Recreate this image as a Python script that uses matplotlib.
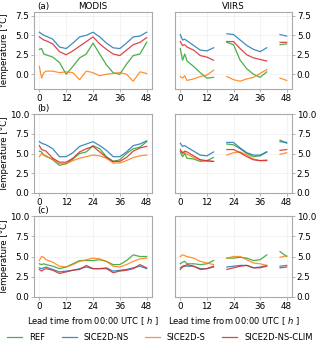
import numpy as np
import matplotlib
matplotlib.use('Agg')
import matplotlib.pyplot as plt

nan = np.nan
HOURS = [0, 1, 2, 3, 6, 9, 12, 15, 18, 21, 24, 27, 30, 33, 36, 39, 42, 45, 48]
LABELS = ['REF', 'SICE2D-NS', 'SICE2D-S', 'SICE2D-NS-CLIM']
COLORS = ['#2ca02c', '#1f77b4', '#ff7f0e', '#d62728']

# (a) MODIS
a_modis_ref = [3.2, 3.3, 2.6, 2.5, 2.2, 1.5, 0.0, 1.0, 2.1, 2.6, 4.0, 2.6, 1.2, 0.2, 0.0, 1.3, 2.4, 2.6, 4.1]
a_modis_ns = [5.4, 5.2, 5.0, 4.9, 4.5, 3.5, 3.3, 4.0, 4.8, 5.0, 5.4, 4.8, 4.0, 3.4, 3.3, 4.0, 4.8, 4.9, 5.4]
a_modis_s = [1.0, -0.5, 0.2, 0.4, 0.4, 0.2, 0.3, 0.2, -0.7, 0.4, 0.2, -0.2, 0.0, 0.1, 0.2, 0.0, -0.9, 0.3, 0.1]
a_modis_clim = [4.8, 4.6, 4.4, 4.3, 3.9, 2.9, 2.5, 3.0, 3.6, 4.2, 4.8, 3.9, 3.2, 2.6, 2.4, 3.1, 3.8, 4.1, 4.7]
# (a) VIIRS
a_viirs_ref = [3.3, 1.8, 2.6, 1.7, 1.0, 0.2, -0.5, -0.4, nan, 4.1, 3.8, 1.8, 0.7, 0.0, -0.4, 0.3, nan, 3.8, 3.9]
a_viirs_ns = [5.1, 4.4, 4.5, 4.3, 3.7, 3.1, 3.0, 3.4, nan, 5.2, 5.1, 4.4, 3.7, 3.2, 2.9, 3.4, nan, 5.1, 4.9]
a_viirs_s = [-0.3, -0.5, -0.2, -0.8, -0.6, -0.3, -0.1, 0.5, nan, -0.3, -0.7, -0.9, -0.6, -0.4, 0.1, 0.6, nan, -0.5, -0.8]
a_viirs_clim = [4.2, 3.7, 3.8, 3.5, 3.1, 2.4, 2.2, 1.8, nan, 4.2, 4.2, 3.3, 2.5, 2.1, 1.9, 1.7, nan, 4.1, 4.1]
# (b) MODIS
b_modis_ref = [5.3, 5.2, 4.8, 4.7, 4.2, 3.5, 3.7, 4.3, 5.0, 5.2, 6.0, 5.6, 4.6, 4.0, 4.2, 5.0, 5.6, 5.8, 6.5]
b_modis_ns = [6.5, 6.3, 6.2, 6.1, 5.6, 4.6, 4.6, 5.1, 5.9, 6.2, 6.5, 6.0, 5.4, 4.6, 4.6, 5.2, 6.0, 6.2, 6.6]
b_modis_s = [4.6, 5.0, 4.8, 4.6, 4.3, 3.7, 3.7, 4.1, 4.4, 4.6, 4.8, 4.7, 4.4, 3.8, 3.8, 4.1, 4.5, 4.7, 4.8]
b_modis_clim = [6.0, 5.5, 5.4, 5.3, 4.4, 3.9, 3.9, 4.4, 5.2, 5.6, 5.9, 5.2, 4.5, 4.0, 4.0, 4.5, 5.3, 5.7, 5.9]
# (b) VIIRS
b_viirs_ref = [5.2, 4.6, 5.0, 4.4, 4.3, 4.0, 4.1, 4.5, nan, 6.2, 6.1, 5.6, 5.0, 4.6, 4.7, 5.2, nan, 6.7, 6.3]
b_viirs_ns = [6.3, 5.9, 6.0, 5.8, 5.3, 4.8, 4.7, 5.2, nan, 6.4, 6.4, 5.7, 5.1, 4.8, 4.8, 5.2, nan, 6.5, 6.4]
b_viirs_s = [5.3, 5.2, 5.1, 4.9, 4.5, 4.2, 4.0, 4.0, nan, 4.8, 5.1, 5.2, 4.8, 4.3, 4.1, 4.2, nan, 4.9, 5.1]
b_viirs_clim = [5.5, 5.0, 5.3, 5.2, 4.7, 4.2, 4.1, 4.0, nan, 5.5, 5.5, 5.1, 4.6, 4.2, 4.1, 4.1, nan, 5.4, 5.5]
# (c) MODIS
c_modis_ref = [4.1, 4.0, 4.1, 4.0, 3.8, 3.5, 3.7, 4.1, 4.5, 4.5, 4.5, 4.6, 4.4, 4.0, 4.0, 4.5, 5.2, 5.0, 5.0]
c_modis_ns = [3.6, 3.5, 3.6, 3.7, 3.4, 3.1, 3.2, 3.3, 3.5, 3.7, 3.5, 3.5, 3.6, 3.2, 3.3, 3.4, 3.6, 3.8, 3.5]
c_modis_s = [4.5, 5.0, 4.9, 4.6, 4.3, 3.8, 3.7, 4.0, 4.4, 4.6, 4.8, 4.7, 4.4, 3.8, 3.7, 4.0, 4.4, 4.7, 4.8]
c_modis_clim = [3.4, 3.2, 3.4, 3.5, 3.3, 2.9, 3.1, 3.3, 3.4, 3.9, 3.5, 3.5, 3.5, 3.0, 3.2, 3.3, 3.5, 4.0, 3.6]
# (c) VIIRS
c_viirs_ref = [4.1, 4.3, 4.4, 4.1, 4.1, 4.0, 4.1, 4.5, nan, 4.8, 4.8, 4.9, 4.8, 4.5, 4.6, 5.2, nan, 5.6, 5.0]
c_viirs_ns = [3.6, 3.8, 3.9, 3.8, 3.8, 3.5, 3.5, 3.7, nan, 3.7, 3.8, 3.9, 3.9, 3.6, 3.7, 3.9, nan, 3.8, 3.9]
c_viirs_s = [5.0, 5.2, 5.1, 5.0, 4.8, 4.4, 4.2, 4.0, nan, 4.8, 5.0, 5.0, 4.6, 4.2, 4.1, 3.9, nan, 4.9, 5.1]
c_viirs_clim = [3.4, 3.7, 3.8, 4.0, 3.8, 3.4, 3.5, 3.8, nan, 3.4, 3.6, 3.8, 3.9, 3.6, 3.6, 3.8, nan, 3.6, 3.7]

PANELS = [
    [(a_modis_ref, a_modis_ns, a_modis_s, a_modis_clim),
     (a_viirs_ref, a_viirs_ns, a_viirs_s, a_viirs_clim)],
    [(b_modis_ref, b_modis_ns, b_modis_s, b_modis_clim),
     (b_viirs_ref, b_viirs_ns, b_viirs_s, b_viirs_clim)],
    [(c_modis_ref, c_modis_ns, c_modis_s, c_modis_clim),
     (c_viirs_ref, c_viirs_ns, c_viirs_s, c_viirs_clim)],
]
ROW_LABELS = ['(a)', '(b)', '(c)']
YLIMS = [(-1.9, 8.0), (0, 10), (0, 10)]
YTICKS = [[0.0, 2.5, 5.0, 7.5], [0.0, 2.5, 5.0, 7.5, 10.0], [0.0, 2.5, 5.0, 7.5, 10.0]]

FS = 6.3
plt.rcParams['font.size'] = FS

fig = plt.figure(figsize=(3.2, 3.46), dpi=100)
lefts = [34 / 320., 175 / 320.]
widths = [118 / 320., 117 / 320.]
rows = [(12, 89), (114, 193), (216, 297)]

lines = []
for r, (top, bot) in enumerate(rows):
    for c in range(2):
        ax = fig.add_axes([lefts[c], 1 - bot / 346., widths[c], (bot - top) / 346.])
        for k, series in enumerate(PANELS[r][c]):
            l, = ax.plot(HOURS, series, color=COLORS[k], lw=0.9, alpha=0.85, label=LABELS[k])
            if r == 0 and c == 0:
                lines.append(l)
        ax.set_ylim(*YLIMS[r])
        ax.set_yticks(YTICKS[r])
        ax.set_xticks([0, 12, 24, 36, 48])
        ax.set_xlim(-2.4, 50.4)
        ax.grid(True, color='#eeeeee', lw=0.5)
        for s in ax.spines.values():
            s.set_color('#aaaaaa')
            s.set_linewidth(0.8)
        ax.tick_params(length=2, width=0.6, color='#aaaaaa', pad=1.5, labelsize=FS)
        if c == 0:
            ax.set_ylabel('Temperature [°C]', fontsize=6.2)
            ax.yaxis.set_label_coords(-0.21, 0.5)
            ax.text(0.03, 1.01, ROW_LABELS[r], transform=ax.transAxes, fontsize=FS,
                    ha='left', va='bottom')
        else:
            ax.yaxis.tick_right()
        if r == 0:
            ax.set_title(['MODIS', 'VIIRS'][c], fontsize=FS, pad=2)
        if r == 2:
            ax.set_xlabel('Lead time from 00:00 UTC [ $h$ ]', fontsize=6, labelpad=3)

fig.legend(lines, LABELS, loc='center', bbox_to_anchor=(0.5, 9 / 346.), ncol=4,
           frameon=False, fontsize=6, handlelength=1.8, columnspacing=2.0,
           handletextpad=0.8)

fig.savefig('out.png', dpi=100)
